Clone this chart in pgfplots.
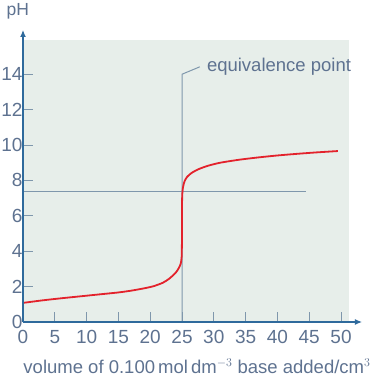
\documentclass[border=0pt]{standalone}
\usepackage{pgfplots}
\pgfplotsset{compat=1.18}
\usepackage{fontspec}
\setmainfont{Liberation Sans}
\usetikzlibrary{arrows.meta,calc}
\definecolor{panel}{HTML}{E7EEEA}
\definecolor{axisblue}{HTML}{2F6A9C}
\definecolor{txt}{HTML}{5E7290}
\definecolor{guide}{HTML}{7F97AC}
\definecolor{curve}{HTML}{E3222C}
\begin{document}
\begin{tikzpicture}
\begin{axis}[
  scale only axis,
  width=339pt, height=292pt,
  xmin=0, xmax=53.3, ymin=0, ymax=16.5,
  axis lines=left,
  axis line style={-{Latex[length=7pt,width=6pt]}, color=axisblue, line width=1.2pt},
  xtick={0,5,...,50}, ytick={0,2,...,14},
  tick align=inside,
  major tick length=10pt,
  tick style={color=guide, line width=0.9pt},
  every tick label/.append style={font=\fontsize{19}{21}\selectfont, text=txt},
  /pgf/number format/assume math mode=true,
  xticklabel style={yshift=-5pt},
  yticklabel style={xshift=3pt},
  clip=false,
  axis on top,
]
\fill[panel] (axis cs:0.15,0) rectangle (axis cs:51.3,15.95);
\draw[guide, line width=1pt] (axis cs:0,7.35) -- (axis cs:44.5,7.35);
\draw[guide, line width=1pt] (axis cs:25,0) -- (axis cs:25,14) -- (axis cs:27.8,14.42);
\addplot[curve, line width=1.8pt, smooth, tension=0.4] coordinates {
(0,1.08) (3,1.22) (6,1.34) (9,1.45) (12,1.56) (15,1.67) (17,1.77) (19,1.90)
(20.5,2.02) (22,2.22) (23,2.45) (24,2.78) (24.5,3.05) (24.8,3.3) (24.95,3.7)
(25.0,5.0) (25.02,7.0) (25.15,7.6) (25.4,7.95) (25.8,8.2) (26.5,8.42)
(27.5,8.62) (29,8.82) (31,9.0) (34,9.17) (37,9.3) (40,9.41) (43,9.5)
(46,9.58) (49.5,9.66)
};
\node[anchor=west, text=txt, font=\fontsize{18.5}{20}\selectfont, inner sep=0pt] at (axis cs:28.9,14.45) {equivalence point};
\node[anchor=west, text=txt, font=\fontsize{17.5}{20}\selectfont, inner sep=0pt] at (axis cs:-2.6,17.55) {pH};
\node[anchor=base, text=txt, font=\fontsize{18.5}{20}\selectfont, inner sep=0pt] at ($(axis cs:0,0)+(174pt,-51pt)$) {volume of 0.100\,mol\,dm$^{-3}$ base added/cm$^{3}$};
\end{axis}
\pgfresetboundingbox
\useasboundingbox (-23pt,-64pt) rectangle (351pt,322pt);
\end{tikzpicture}
\end{document}
